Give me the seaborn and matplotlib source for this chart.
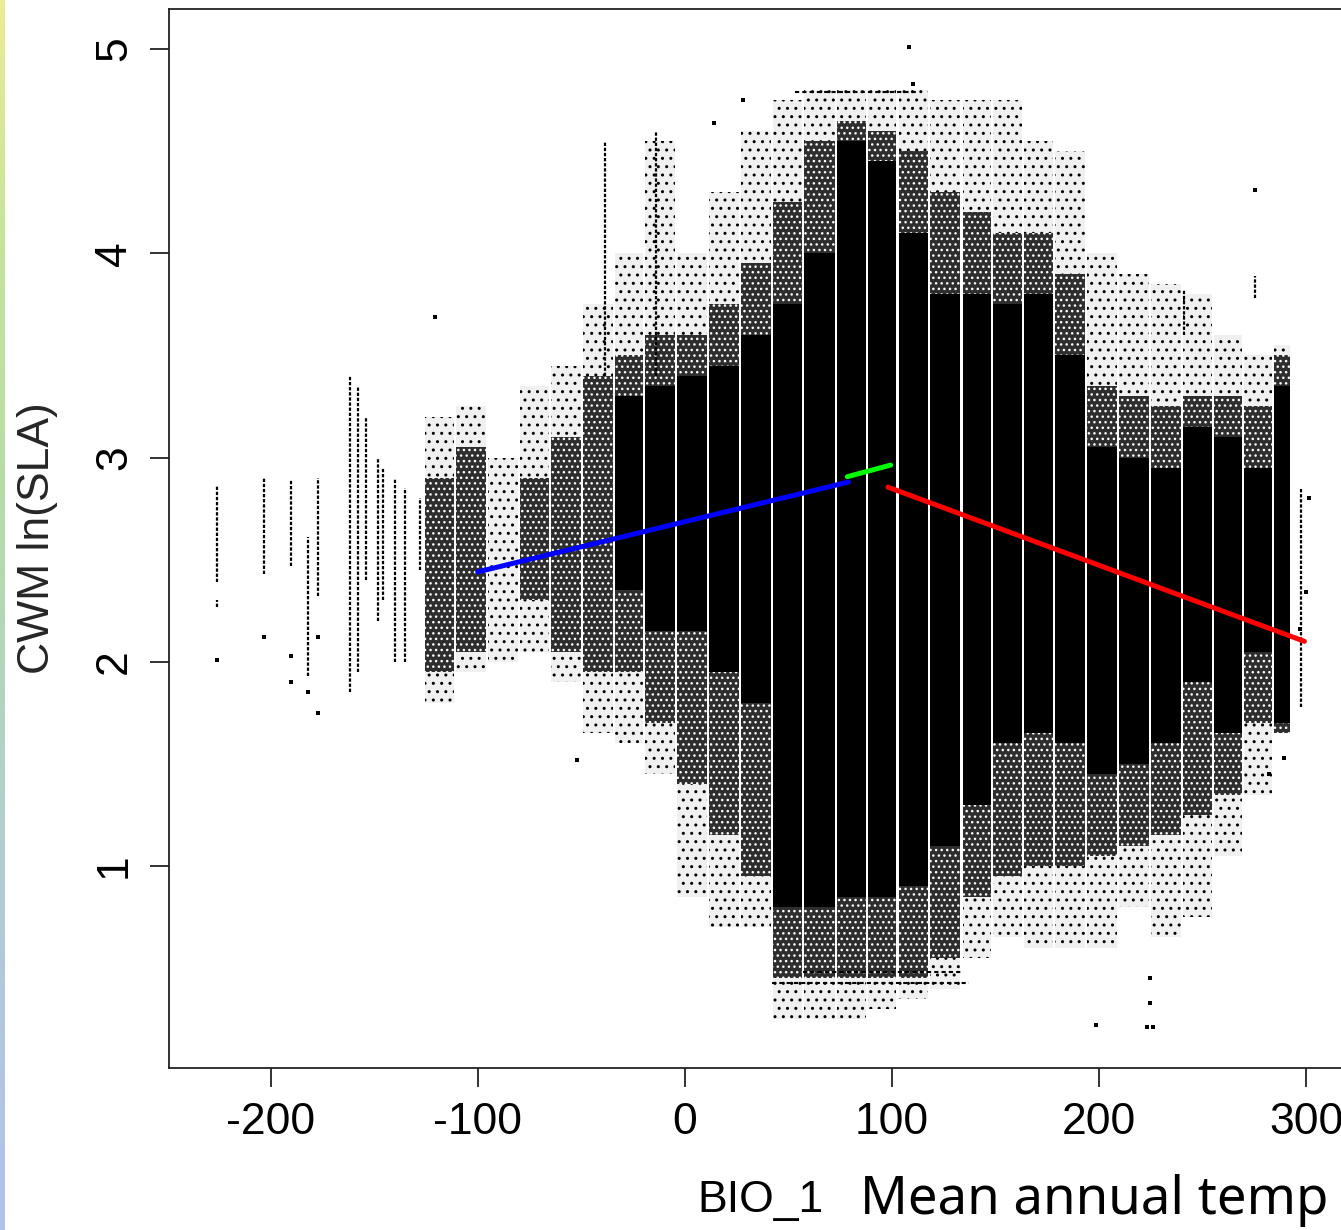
import numpy as np
import pandas as pd
import matplotlib
matplotlib.use("Agg")
import matplotlib.pyplot as plt
import seaborn as sns

nan = np.nan

# ---------------- data ----------------
# x positions of the raster gaps that split the point cloud into columns
col_edges = [-126, -111, -95.5, -80, -65, -49.7, -34.4, -19.8, -4.3, 11.1, 26.5,
             41.9, 56.9, 72.8, 87.7, 102.6, 117.6, 133.5, 148.4, 163.4, 178.3,
             193.7, 209.2, 224.6, 240, 254.8, 269.3, 284, 292.5]

# extent of scattered points in each column (CWM ln(SLA))
sparse_lo = [1.80, 1.95, 2.00, 2.05, 1.90, 1.65, 1.60, 1.45, 0.85, 0.70, 0.70,
             0.25, 0.25, 0.25, 0.30, 0.35, 0.40, 0.55, 0.65, 0.60, 0.60, 0.60,
             0.80, 0.65, 0.75, 1.05, 1.35, 1.65]
sparse_hi = [3.20, 3.25, 3.00, 3.35, 3.45, 3.75, 4.00, 4.55, 4.00, 4.30, 4.60,
             4.75, 4.80, 4.80, 4.80, 4.80, 4.75, 4.75, 4.75, 4.55, 4.50, 4.00,
             3.90, 3.85, 3.80, 3.60, 3.50, 3.55]
# extent of densely packed points
dense_lo = [1.95, 2.05, nan, 2.30, 2.05, 1.95, 1.95, 1.70, 1.40, 1.15, 0.95,
            0.45, 0.45, 0.45, 0.45, 0.45, 0.55, 0.85, 0.95, 1.00, 1.00, 1.05,
            1.10, 1.15, 1.25, 1.35, 1.70, 1.65]
dense_hi = [2.90, 3.05, nan, 2.90, 3.10, 3.40, 3.50, 3.60, 3.60, 3.75, 3.95,
            4.25, 4.55, 4.65, 4.60, 4.50, 4.30, 4.20, 4.10, 4.10, 3.90, 3.35,
            3.30, 3.25, 3.30, 3.30, 3.25, 3.50]
# extent of fully overplotted (solid) points
solid_lo = [nan, nan, nan, nan, nan, nan, 2.35, 2.15, 2.15, 1.95, 1.80,
            0.80, 0.80, 0.85, 0.85, 0.90, 1.10, 1.30, 1.60, 1.65, 1.60, 1.45,
            1.50, 1.60, 1.90, 1.65, 2.05, 1.70]
solid_hi = [nan, nan, nan, nan, nan, nan, 3.30, 3.35, 3.40, 3.45, 3.60,
            3.75, 4.00, 4.55, 4.45, 4.10, 3.80, 3.80, 3.75, 3.80, 3.50, 3.05,
            3.00, 2.95, 3.15, 3.10, 2.95, 3.35]

# isolated vertical chains of points (cold sites and tall columns)
strand_x = [-226, -226, -203, -190, -182, -177, -161.5, -157.6, -154, -148,
            -145.5, -139.8, -135, -127.7, -38.5, -14, 297.5, 241, 275]
strand_lo = [2.39, 2.27, 2.43, 2.47, 1.93, 2.32, 1.85, 1.95, 2.40, 2.20,
             2.30, 2.00, 2.00, 2.45, 3.40, 3.40, 1.78, 3.60, 3.78]
strand_hi = [2.86, 2.30, 2.90, 2.89, 2.61, 2.90, 3.40, 3.35, 3.20, 3.00,
             2.95, 2.90, 2.85, 2.80, 4.55, 4.60, 2.85, 3.82, 3.89]

# single outlying points
pts_x = [-226, -203, -190, -190, -182, -177, -177, -120.5, -52, 108, 110, 28,
         14, 198.6, 223, 226, 224.5, 224.5, 275, 282, 289, 301, 300, 297]
pts_y = [2.01, 2.12, 2.03, 1.90, 1.85, 2.12, 1.75, 3.69, 1.52, 5.01, 4.83,
         4.75, 4.64, 0.22, 0.21, 0.21, 0.33, 0.45, 4.31, 1.45, 1.53, 2.80,
         2.34, 2.16]

# rows of points sitting at bounded values
row_y = [4.79, 0.48, 0.427]
row_x0 = [53, 57, 42]
row_x1 = [112, 134, 137]

# piecewise regression fits
fit_seg = ["cold", "cold", "mid", "mid", "warm", "warm"]
fit_x = [-100, 79, 78.4, 99.3, 98, 299]
fit_y = [2.44, 2.88, 2.906, 2.963, 2.855, 2.10]

x_ticks = [-200, -100, 0, 100, 200, 300]
y_ticks = [1, 2, 3, 4, 5]

# ---------------- figure ----------------
sns.set_theme(style="ticks")
plt.rcParams["font.family"] = ["Liberation Sans", "DejaVu Sans"]
plt.rcParams["hatch.linewidth"] = 1.0

W, H = 1341, 1230
fig = plt.figure(figsize=(W / 100, H / 100), dpi=100)
fig.patch.set_facecolor("white")

# left decorative gradient strip of the slide
strip = fig.add_axes([0, 0, 5 / W, 1])
grad_cols = ["#ecec94", "#c4e49c", "#b8dca8", "#b4d2c4", "#b2c8dc", "#b0c2ea"]
cmap = matplotlib.colors.LinearSegmentedColormap.from_list("g", grad_cols)
strip.imshow(np.linspace(0, 1, 256)[:, None], aspect="auto", cmap=cmap)
strip.set_axis_off()

ax = fig.add_axes([169 / W, 1 - 1068 / H, (1350 - 169) / W, (1068 - 9) / H])

edges = np.array(col_edges)
left = edges[:-1] + 0.5
width = np.diff(edges) - 1.0


def draw_layer(lo, hi, face, hatch_col=None, hatch=None):
    lo = np.array(lo, float)
    hi = np.array(hi, float)
    ok = ~np.isnan(lo)
    ax.bar(left[ok], hi[ok] - lo[ok], bottom=lo[ok], width=width[ok],
           align="edge", color=face, edgecolor=hatch_col if hatch_col else face,
           hatch=hatch, linewidth=0, zorder=1)


draw_layer(sparse_lo, sparse_hi, "#f0f0f0", "black", "..")
draw_layer(dense_lo, dense_hi, "#2e2e2e", "white", "...")
draw_layer(solid_lo, solid_hi, "#000000")

ax.vlines(strand_x, strand_lo, strand_hi, colors="black", linewidth=1.6,
          linestyles=(0, (1.5, 0.8)), zorder=2)
ax.hlines(row_y, row_x0, row_x1, colors="black", linewidth=1.5,
          linestyles=(0, (2.0, 1.5)), zorder=2)
sns.scatterplot(x=pts_x, y=pts_y, ax=ax, color="black", marker="s", s=5,
                linewidth=0, zorder=3)

fits = pd.DataFrame({"seg": fit_seg, "x": fit_x, "y": fit_y})
sns.lineplot(data=fits, x="x", y="y", hue="seg", units="seg", estimator=None,
             palette={"cold": "#0000ff", "mid": "#00ff00", "warm": "#ff0000"},
             linewidth=3.6, legend=False, ax=ax, zorder=4, sort=False)

ax.set_xlim(-249, 321)
ax.set_ylim(0.011, 5.196)
ax.set_xticks(x_ticks)
ax.set_yticks(y_ticks)
ax.set_xticklabels([str(v) for v in x_ticks])
ax.set_yticklabels([str(v) for v in y_ticks], rotation=90, va="center")
for s in ax.spines.values():
    s.set_visible(True)
    s.set_color("#222222")
    s.set_linewidth(1.3)
ax.tick_params(axis="both", direction="out", length=13.5, width=1.3,
               color="#222222", labelsize=32, labelcolor="black")
ax.tick_params(axis="x", pad=11)
ax.tick_params(axis="y", pad=11)
ax.set_xlabel("")
ax.set_ylabel("CWM ln(SLA)", fontsize=32, labelpad=26)
ax.grid(False)

fig.text(760 / W, 1 - 1212 / H, "BIO_1", fontsize=32, ha="center",
         va="baseline", color="black")
fig.text(860 / W, 1 - 1214 / H, "Mean annual temp", fontsize=38,
         ha="left", va="baseline", color="black", family="Noto Sans")

fig.savefig("out.png", dpi=100)
